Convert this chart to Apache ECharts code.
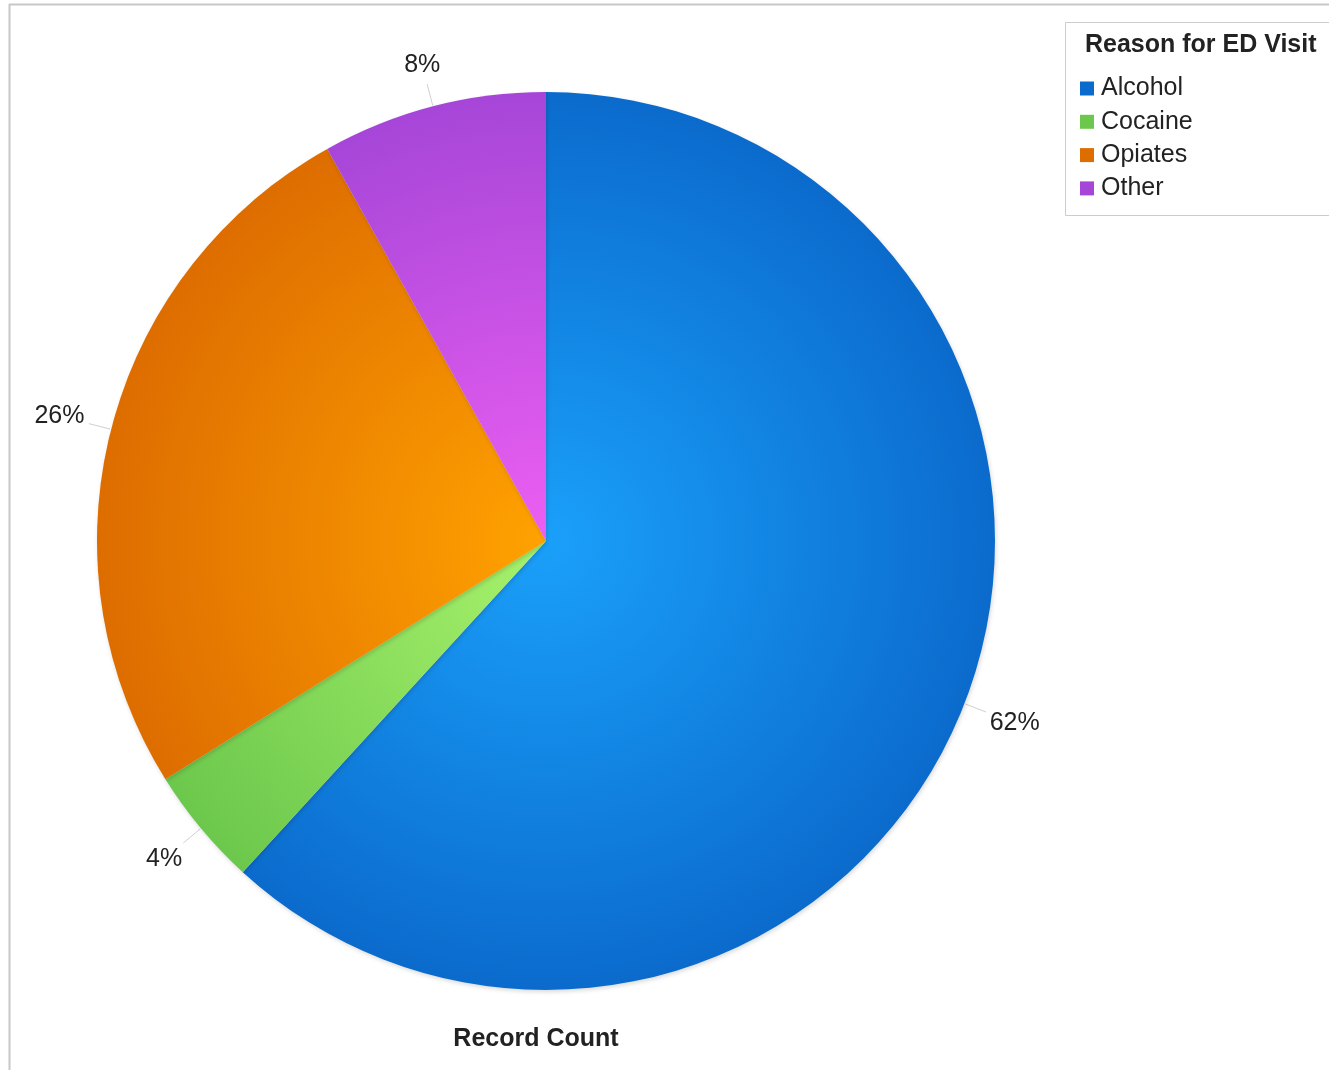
<!DOCTYPE html>
<html>
<head>
<meta charset="utf-8">
<script src="https://cdn.jsdelivr.net/npm/echarts@6/dist/echarts.min.js"></script>
<style>
html,body{margin:0;padding:0;background:#fff;}
#chart{width:1329px;height:1070px;}
</style>
</head>
<body>
<div id="chart"></div>
<script>
const categories = ['Alcohol', 'Cocaine', 'Opiates', 'Other'];
const values = [61.8, 4.3, 25.8, 8.1];
const legendTitle = 'Reason for ED Visit';
const axisTitle = 'Record Count';

const cx = 546, cy = 541, R = 449;
const FONT = 'Liberation Sans, Arial, Helvetica, sans-serif';
const gradients = [
  ['#1aa0fa', '#0b6bcd'],
  ['#a8f26c', '#6cc84c'],
  ['#ffa200', '#de6d00'],
  ['#ec5ff2', '#a646d8']
];
function grad(c) {
  return {type: 'radial', x: cx, y: cy, r: R, global: true,
    colorStops: [{offset: 0, color: c[0]}, {offset: 1, color: c[1]}]};
}
function placeLabel(params) {
  const pts = params.labelLinePoints;
  if (!pts) return {};
  const px = pts[0][0] - cx, py = pts[0][1] - cy;
  const len = Math.sqrt(px * px + py * py) || 1;
  const ux = px / len, uy = py / len;
  const w = params.labelRect.width, h = params.labelRect.height;
  const ext = Math.abs(ux) * w / 2 + Math.abs(uy) * h / 2;
  const d = R + 26 + ext;
  return {
    x: cx + ux * d,
    y: cy + uy * d,
    align: 'center',
    verticalAlign: 'middle',
    labelLinePoints: [
      [cx + ux * (R + 1), cy + uy * (R + 1)],
      [cx + ux * (R + 23), cy + uy * (R + 23)],
      [cx + ux * (R + 23), cy + uy * (R + 23)]
    ]
  };
}
const chart = echarts.init(document.getElementById('chart'), null, {renderer: 'canvas'});
chart.setOption({
  backgroundColor: '#ffffff',
  animation: false,
  color: gradients.map(g => g[1]),
  title: [{
    text: legendTitle,
    left: 1085, top: 33, padding: 0,
    textStyle: {fontFamily: FONT, fontSize: 25, fontWeight: 'bold', color: '#222'}
  }, {
    text: axisTitle,
    left: 536, top: 1027, textAlign: 'center', padding: 0,
    textStyle: {fontFamily: FONT, fontSize: 25, fontWeight: 'bold', color: '#222'}
  }],
  graphic: [
    {type: 'line', shape: {x1: 9, y1: 4.5, x2: 1329, y2: 4.5}, style: {stroke: '#c8c8c8', lineWidth: 2}},
    {type: 'line', shape: {x1: 9.5, y1: 4, x2: 9.5, y2: 1070}, style: {stroke: '#c8c8c8', lineWidth: 2}},
    {type: 'rect', shape: {x: 1065.5, y: 22.5, width: 300, height: 193}, style: {fill: 'none', stroke: '#cccccc', lineWidth: 1}}
  ],
  legend: {
    orient: 'vertical',
    left: 1080, top: 76,
    itemWidth: 14, itemHeight: 14,
    itemGap: 8.3,
    icon: 'rect',
    padding: 0,
    data: categories,
    textStyle: {fontFamily: FONT, fontSize: 25, color: '#222', padding: [0, 0, 0, 2], lineHeight: 22}
  },
  series: [{
    type: 'pie',
    center: [cx, cy],
    radius: R,
    startAngle: 90,
    clockwise: true,
    avoidLabelOverlap: false,
    data: categories.map((c, i) => ({
      name: c, value: values[i],
      itemStyle: {color: grad(gradients[i])}
    })),
    itemStyle: {borderWidth: 0, shadowColor: 'rgba(0,0,0,0.15)', shadowBlur: 4, shadowOffsetX: 1, shadowOffsetY: 2},
    label: {
      show: true,
      position: 'outside',
      formatter: p => Math.round(p.percent) + '%',
      fontFamily: FONT,
      fontSize: 25,
      color: '#222'
    },
    labelLine: {
      show: true,
      length: 14,
      length2: 12,
      lineStyle: {color: '#d0d0d0', width: 1}
    },
    labelLayout: placeLabel,
    emphasis: {disabled: true}
  }]
});
</script>
</body>
</html>
